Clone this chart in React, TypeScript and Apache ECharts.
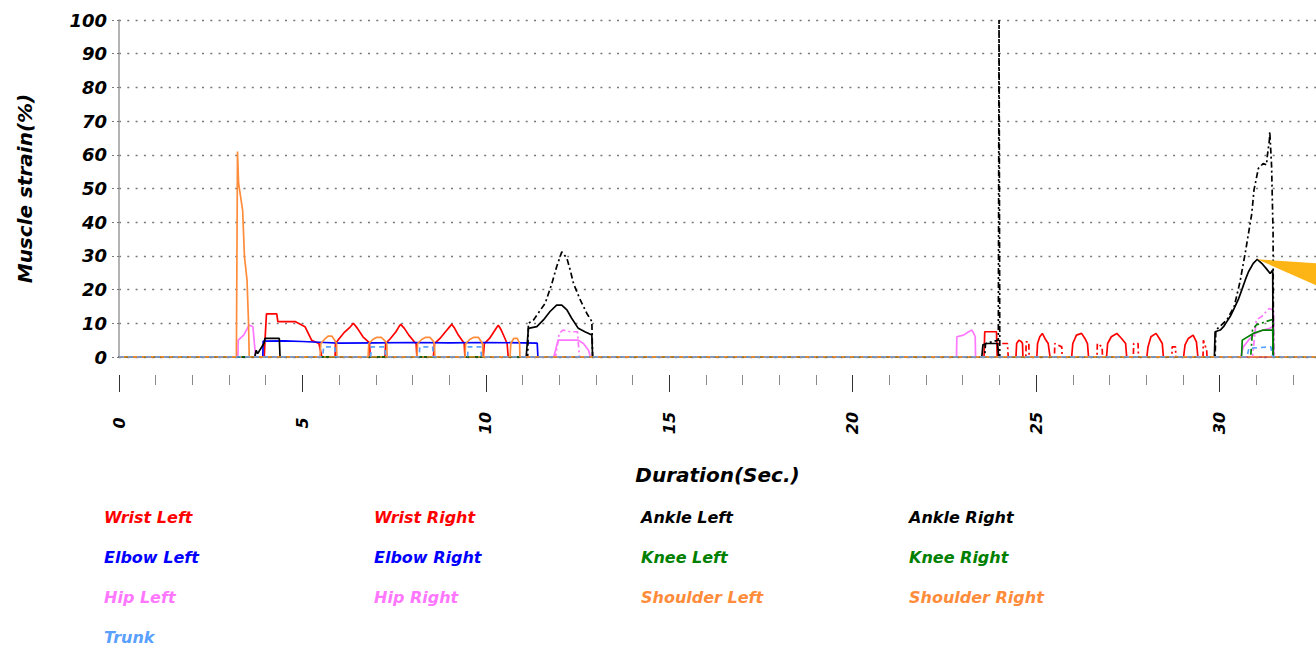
import React, { useEffect, useRef } from 'react';
import * as echarts from 'echarts';

const FONT = 'DejaVu Sans';
const X_MAX = 32.63;

// x tick labels / y tick labels
const yTicks = [0, 10, 20, 30, 40, 50, 60, 70, 80, 90, 100];
const xLabelSteps = [0, 5, 10, 15, 20, 25, 30];

type P = [number, number];

const wristLeft: P[] = [
  [0, 0], [3.96, 0], [3.98, 5], [4.02, 12.8], [4.3, 12.8], [4.33, 10.5], [4.8, 10.5], [5.07, 9], [5.25, 5], [5.45, 4], [5.53, 0],
  [5.89, 0], [5.9, 4], [6.0, 5.4], [6.15, 7.4], [6.3, 8.9], [6.39, 10], [6.5, 8.5], [6.65, 6], [6.8, 4.5], [6.83, 4], [6.85, 0],
  [7.25, 0], [7.27, 4], [7.4, 5.5], [7.55, 7.5], [7.62, 8.8], [7.68, 9.7], [7.78, 8.5], [7.9, 6.5], [8.05, 4.5], [8.1, 4], [8.12, 0],
  [8.57, 0], [8.6, 4], [8.75, 5.5], [8.9, 7.5], [9.0, 8.8], [9.07, 9.7], [9.15, 8.5], [9.25, 6.5], [9.38, 4.5], [9.41, 4], [9.43, 0],
  [9.93, 0], [9.96, 4], [10.1, 5.5], [10.22, 7.5], [10.3, 8.8], [10.34, 9.4], [10.42, 8], [10.5, 6], [10.58, 4], [10.61, 0],
  [23.58, 0], [23.6, 7.5], [23.92, 7.5], [23.94, 0],
  [24.45, 0], [24.47, 4], [24.53, 5], [24.6, 4.5], [24.63, 4], [24.64, 0],
  [25.02, 0], [25.04, 4], [25.1, 6], [25.17, 7], [25.24, 5.5], [25.33, 4], [25.38, 0],
  [25.97, 0], [26.0, 4], [26.1, 6.5], [26.24, 7], [26.33, 5.5], [26.4, 4], [26.43, 0],
  [26.92, 0], [26.95, 4], [27.05, 6], [27.2, 7], [27.33, 5.5], [27.44, 4], [27.47, 0],
  [28.02, 0], [28.05, 3], [28.13, 6], [28.27, 7], [28.36, 5.5], [28.44, 4], [28.47, 0],
  [29.02, 0], [29.06, 3.6], [29.15, 5.5], [29.28, 6.5], [29.37, 4.5], [29.41, 0],
  [X_MAX, 0],
];

const wristRight: P[] = [
  [0, 0], [23.95, 0], [23.97, 4], [24.22, 4], [24.24, 0],
  [24.72, 0], [24.73, 4.5], [24.8, 4.5], [24.81, 0],
  [25.5, 0], [25.51, 4], [25.7, 3], [25.71, 0],
  [26.66, 0], [26.67, 4], [26.8, 3], [26.81, 0],
  [27.65, 0], [27.66, 4], [27.78, 4], [27.79, 0],
  [28.7, 0], [28.71, 3], [28.8, 3], [28.81, 0],
  [29.55, 0], [29.56, 5], [29.65, 2], [29.66, 0],
  [X_MAX, 0],
];

const elbowLeft: P[] = [
  [0, 0], [3.92, 0], [3.93, 4.7], [4.5, 4.8], [5.0, 4.6], [5.6, 4.3], [6.0, 4.1], [7.0, 4.2], [8.0, 4.3],
  [9.0, 4.2], [10.0, 4.3], [11.0, 4.2], [11.4, 4.1], [11.42, 0], [X_MAX, 0],
];

const elbowRight: P[] = [[0, 0], [X_MAX, 0]];

const hipLeft: P[] = [
  [0, 0], [3.24, 0], [3.25, 5], [3.4, 6.5], [3.55, 9.5], [3.65, 9], [3.72, 0.5], [3.73, 0],
  [11.85, 0], [11.9, 2], [11.97, 5], [12.52, 5], [12.66, 4], [12.8, 2], [12.85, 0],
  [22.83, 0], [22.84, 6], [23.02, 6.5], [23.16, 7.5], [23.25, 8], [23.3, 7], [23.34, 6], [23.35, 0],
  [30.58, 0], [30.6, 1], [30.65, 3], [30.79, 5], [30.97, 7], [31.19, 8], [31.37, 8.5], [31.45, 9], [31.47, 13], [31.48, 0],
  [X_MAX, 0],
];

const hipRight: P[] = [
  [0, 0], [11.9, 0], [12.0, 7], [12.1, 8], [12.3, 7.5], [12.5, 7.5], [12.55, 0],
  [30.9, 0], [31.0, 11], [31.15, 12], [31.35, 14.4], [31.45, 14], [31.47, 0],
  [X_MAX, 0],
];

const ankleLeft: P[] = [
  [0, 0], [3.7, 0], [3.74, 2], [3.78, 1], [3.95, 4], [3.98, 5.5], [4.37, 5.5], [4.39, 0],
  [11.1, 0], [11.16, 8.5], [11.39, 9], [11.57, 11], [11.75, 13.5], [11.93, 15.4], [12.07, 15.4], [12.21, 14],
  [12.34, 11.5], [12.52, 8.5], [12.7, 7.5], [12.89, 6.5], [12.91, 0],
  [23.52, 0], [23.55, 3.6], [23.65, 4], [23.95, 4], [23.98, 0],
  [29.86, 0], [29.88, 7.5], [30.02, 8], [30.11, 9], [30.2, 10.5], [30.29, 12], [30.38, 14], [30.51, 17], [30.61, 20],
  [30.7, 22.8], [30.79, 25.3], [30.92, 27.8], [31.03, 29], [31.15, 27.8], [31.27, 26.3], [31.38, 24.8], [31.45, 25.8], [31.46, 0],
  [X_MAX, 0],
];

const ankleRight: P[] = [
  [0, 0], [11.14, 0], [11.16, 10], [11.3, 11], [11.62, 16], [11.8, 21.8], [11.93, 26.8], [12.07, 31.2], [12.21, 29.3],
  [12.3, 25.8], [12.39, 21.8], [12.57, 17], [12.75, 13], [12.89, 10.5], [12.91, 0],
  [23.6, 0], [23.62, 4], [23.97, 5], [23.99, 100], [24.01, 0],
  [29.88, 0], [29.9, 8], [30.2, 11], [30.4, 15], [30.56, 22.4], [30.7, 30.8], [30.79, 36.7], [30.88, 42.6], [30.94, 49.6],
  [31.06, 56], [31.19, 57.4], [31.28, 57], [31.3, 59.4], [31.36, 64.4], [31.37, 66.9], [31.42, 56.5], [31.46, 36.7], [31.47, 0],
  [X_MAX, 0],
];

const kneeLeft: P[] = [
  [0, 0], [30.6, 0], [30.62, 5], [30.92, 7], [31.19, 8], [31.45, 8], [31.46, 0], [X_MAX, 0],
];

const kneeRight: P[] = [
  [0, 0], [30.85, 0], [30.9, 8], [31.0, 9.5], [31.4, 11], [31.45, 11], [31.46, 0], [X_MAX, 0],
];

const shoulderLeft: P[] = [
  [0, 0], [3.2, 0], [3.23, 61], [3.26, 51.5], [3.37, 43.6], [3.42, 29.8], [3.49, 22.8], [3.53, 10.5], [3.55, 0],
  [5.48, 0], [5.5, 4], [5.6, 5.2], [5.7, 6.2], [5.8, 6.2], [5.88, 5], [5.93, 4], [5.94, 0],
  [6.79, 0], [6.81, 4], [6.92, 5.2], [7.02, 5.8], [7.15, 5.8], [7.25, 4.8], [7.3, 4], [7.31, 0],
  [8.12, 0], [8.14, 4], [8.25, 5.2], [8.35, 5.8], [8.48, 5.8], [8.56, 4.8], [8.6, 4], [8.61, 0],
  [9.43, 0], [9.45, 4], [9.56, 5.2], [9.66, 5.8], [9.8, 5.8], [9.86, 4.8], [9.91, 4], [9.92, 0],
  [10.66, 0], [10.68, 4], [10.76, 5.5], [10.86, 5.5], [10.92, 4], [10.93, 0],
  [X_MAX, 0],
];

const shoulderRight: P[] = [[0, 0], [X_MAX, 0]];

const trunk: P[] = [
  [0, 0], [5.55, 0], [5.58, 3], [5.88, 3], [5.9, 0],
  [6.86, 0], [6.88, 3], [7.25, 3], [7.27, 0],
  [8.18, 0], [8.2, 3], [8.55, 3], [8.57, 0],
  [9.5, 0], [9.52, 3], [9.86, 3], [9.88, 0],
  [30.75, 0], [30.8, 2.6], [31.4, 3], [31.45, 0],
  [X_MAX, 0],
];

// annotation pointer anchored at the Ankle Left peak
const pointerAnchor: P = [31.03, 29];

const RED = '#FF0000';
const BLUE = '#0000FF';
const BLACK = '#000000';
const GREEN = '#008000';
const PINK = '#FF77FF';
const ORANGE = '#FF8C3A';
const LIGHTBLUE = '#5AA0FF';

const DASHDOT = [6, 3, 2, 3];

const seriesDefs: { name: string; data: P[]; color: string; dash: any }[] = [
  { name: 'Wrist Left', data: wristLeft, color: RED, dash: 'solid' },
  { name: 'Wrist Right', data: wristRight, color: RED, dash: DASHDOT },
  { name: 'Elbow Left', data: elbowLeft, color: BLUE, dash: 'solid' },
  { name: 'Elbow Right', data: elbowRight, color: BLUE, dash: DASHDOT },
  { name: 'Hip Left', data: hipLeft, color: PINK, dash: 'solid' },
  { name: 'Hip Right', data: hipRight, color: PINK, dash: DASHDOT },
  { name: 'Ankle Left', data: ankleLeft, color: BLACK, dash: 'solid' },
  { name: 'Ankle Right', data: ankleRight, color: BLACK, dash: DASHDOT },
  { name: 'Knee Left', data: kneeLeft, color: GREEN, dash: 'solid' },
  { name: 'Knee Right', data: kneeRight, color: GREEN, dash: DASHDOT },
  { name: 'Shoulder Left', data: shoulderLeft, color: ORANGE, dash: 'solid' },
  { name: 'Shoulder Right', data: shoulderRight, color: ORANGE, dash: DASHDOT },
  { name: 'Trunk', data: trunk, color: LIGHTBLUE, dash: [5, 4] },
];

const legendColumns: string[][] = [
  ['Wrist Left', 'Elbow Left', 'Hip Left', 'Trunk'],
  ['Wrist Right', 'Elbow Right', 'Hip Right'],
  ['Ankle Left', 'Knee Left', 'Shoulder Left'],
  ['Ankle Right', 'Knee Right', 'Shoulder Right'],
];
const legendLefts = [98, 368, 635, 903];

const boldItalic = { fontFamily: FONT, fontWeight: 'bold' as const, fontStyle: 'italic' as const, color: '#000' };

export default function App() {
  const ref = useRef<HTMLDivElement>(null);
  useEffect(() => {
    document.body.style.margin = '0';
    const chart = echarts.init(ref.current!, null, { renderer: 'svg' });
    const colorOf = (n: string) => seriesDefs.find((s) => s.name === n)!.color;
    chart.setOption({
      animation: false,
      backgroundColor: '#fff',
      grid: { left: 119, top: 20, right: 0, height: 337, containLabel: false },
      xAxis: [
        {
          type: 'value', min: 0, max: X_MAX, position: 'bottom',
          axisLine: { show: true, lineStyle: { color: '#000', width: 1.5 } },
          axisTick: { show: false }, axisLabel: { show: false }, splitLine: { show: false },
        },
        {
          type: 'value', min: 0, max: X_MAX, interval: 1, position: 'bottom', offset: 18,
          axisLine: { show: false },
          axisTick: { show: true, length: 10, lineStyle: { color: '#8a8a8a', width: 1 } },
          axisLabel: { show: false }, splitLine: { show: false },
        },
        {
          type: 'value', min: 0, max: X_MAX, interval: 5, position: 'bottom', offset: 18,
          axisLine: { show: false },
          axisTick: { show: true, length: 17, lineStyle: { color: '#333', width: 1 } },
          axisLabel: {
            show: true, rotate: 90, margin: 48, align: 'center', verticalAlign: 'middle',
            showMaxLabel: false,
            formatter: (v: number) => (xLabelSteps.includes(v) ? String(v) : ''),
            ...boldItalic, fontSize: 16,
          },
          splitLine: { show: false },
          name: 'Duration(Sec.)', nameLocation: 'middle', nameGap: 90,
          nameTextStyle: { ...boldItalic, fontSize: 20 },
        },
      ],
      yAxis: {
        type: 'value', min: 0, max: 100, interval: 10,
        axisLine: { show: true, lineStyle: { color: '#9a9a9a', width: 1.5 } },
        axisTick: { show: true, length: 9, lineStyle: { color: '#777', type: [2, 3] } },
        axisLabel: {
          margin: 12, ...boldItalic, fontSize: 18,
          formatter: (v: number) => (yTicks.includes(v) ? String(v) : ''),
        },
        splitLine: { show: true, lineStyle: { color: '#777', width: 1.3, type: [2, 6.3] } },
        name: 'Muscle strain(%)', nameLocation: 'middle', nameGap: 84, nameRotate: 90,
        nameTextStyle: { ...boldItalic, fontSize: 20 },
      },
      legend: legendColumns.map((col, i) => ({
        orient: 'vertical', left: legendLefts[i], top: 507, padding: 0,
        itemWidth: 0, itemHeight: 0, itemGap: 20, selectedMode: false,
        textStyle: { ...boldItalic, fontSize: 16, lineHeight: 20 },
        data: col.map((n) => ({ name: n, textStyle: { color: colorOf(n) } })),
      })),
      series: seriesDefs.map((s) => ({
        name: s.name, type: 'line', data: s.data, xAxisIndex: 0,
        showSymbol: false, symbol: 'none',
        lineStyle: { color: s.color, width: 1.7, type: s.dash },
        itemStyle: { color: s.color },
      })),
    });
    const p = chart.convertToPixel({ xAxisIndex: 0, yAxisIndex: 0 }, pointerAnchor) as number[];
    const w = chart.getWidth();
    chart.setOption({
      graphic: [
        {
          type: 'polygon', z: 100,
          shape: { points: [[p[0], p[1]], [w, p[1] + 4], [w, p[1] + 26]] },
          style: { fill: '#FDB515' },
        },
      ],
    });
    return () => chart.dispose();
  }, []);
  return <div ref={ref} style={{ width: 1316, height: 647 }} />;
}
